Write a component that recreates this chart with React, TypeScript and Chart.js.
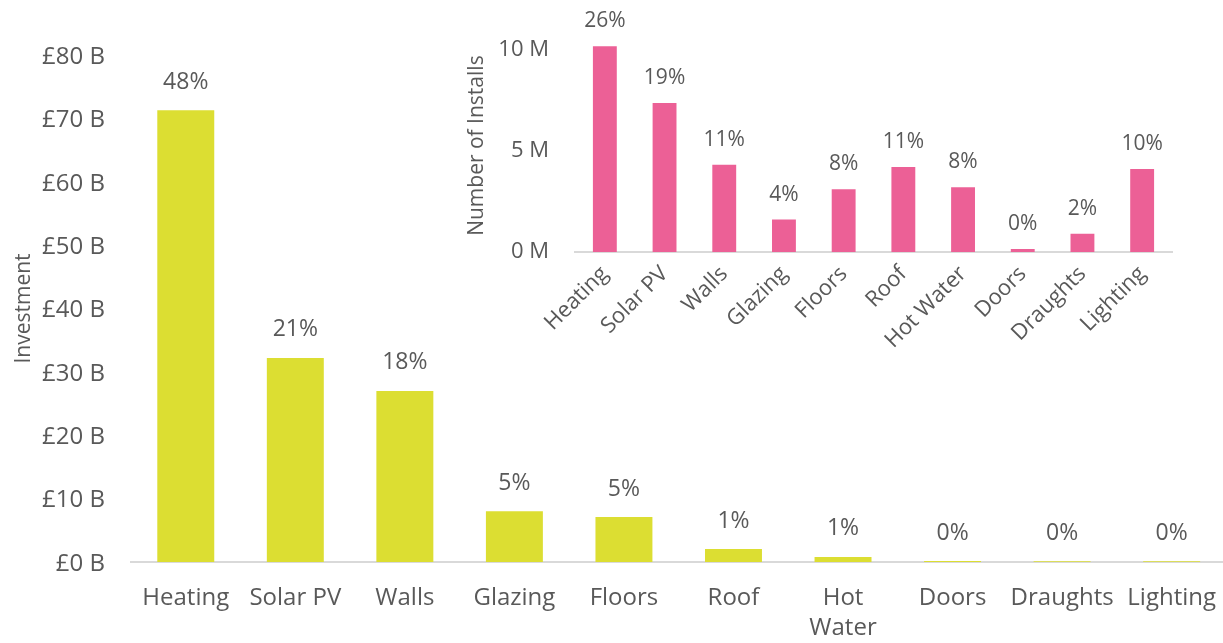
import React, { useEffect, useRef } from 'react';
import { Chart, registerables } from 'chart.js';

Chart.register(...registerables);

const categories = ['Heating', 'Solar PV', 'Walls', 'Glazing', 'Floors', 'Roof', 'Hot Water', 'Doors', 'Draughts', 'Lighting'];
const investmentBn = [71.3, 32.2, 27.0, 8.0, 7.1, 2.05, 0.8, 0.15, 0.12, 0.12];
const investmentPct = ['48%', '21%', '18%', '5%', '5%', '1%', '1%', '0%', '0%', '0%'];
const installsM = [10.15, 7.35, 4.3, 1.6, 3.1, 4.2, 3.2, 0.15, 0.9, 4.1];
const installsPct = ['26%', '19%', '11%', '4%', '8%', '11%', '8%', '0%', '2%', '10%'];
const investmentTicks = [0, 10, 20, 30, 40, 50, 60, 70, 80];
const installTicks = [0, 5, 10];

const FONT = '"Open Sans", "DejaVu Sans", sans-serif';
const TEXT = '#595959';
const AXIS = '#d9d9d9';
const GREEN = '#dcde32';
const PINK = '#ec6096';

function pctPlugin(labels: string[], offset: number, size: number) {
  return {
    id: 'pctLabels',
    afterDatasetsDraw(chart: any) {
      const ctx = chart.ctx;
      const meta = chart.getDatasetMeta(0);
      ctx.save();
      ctx.font = `${size}px ${FONT}`;
      ctx.fillStyle = TEXT;
      ctx.textAlign = 'center';
      ctx.textBaseline = 'middle';
      meta.data.forEach((el: any, i: number) => {
        ctx.fillText(labels[i], el.x, el.y - offset);
      });
      ctx.restore();
    },
  };
}

export default function App() {
  const mainRef = useRef<HTMLCanvasElement>(null);
  const insetRef = useRef<HTMLCanvasElement>(null);

  useEffect(() => {
    const mainLabels = categories.map((c) => (c === 'Hot Water' ? ['Hot', 'Water'] : c));
    const main = new Chart(mainRef.current!, {
      type: 'bar',
      data: {
        labels: mainLabels,
        datasets: [
          {
            data: investmentBn,
            backgroundColor: GREEN,
            categoryPercentage: 1,
            barPercentage: 0.52,
          },
        ],
      },
      options: {
        animation: false,
        responsive: false,
        layout: { padding: { top: 55, left: 0, right: 0, bottom: 0 } },
        plugins: { legend: { display: false }, tooltip: { enabled: false } },
        scales: {
          x: {
            grid: { display: false, drawTicks: false },
            border: { color: AXIS, width: 2 },
            ticks: {
              color: TEXT,
              font: { family: FONT, size: 24, lineHeight: 1.25 },
              padding: 21,
              maxRotation: 0,
              minRotation: 0,
              autoSkip: false,
            },
            afterFit: (s: any) => {
              s.height = 81;
            },
          },
          y: {
            min: 0,
            max: 80,
            grid: { display: false, drawTicks: false },
            border: { display: false },
            afterBuildTicks: (s: any) => {
              s.ticks = investmentTicks.map((v) => ({ value: v }));
            },
            ticks: {
              color: TEXT,
              font: { family: FONT, size: 24 },
              padding: 26,
              labelOffset: 2,
              callback: (v: any) => `£${v} B`,
            },
            title: {
              display: true,
              text: 'Investment',
              color: TEXT,
              font: { family: FONT, size: 21 },
              padding: { top: 11, bottom: 0 },
            },
            afterFit: (s: any) => {
              s.width = 131;
            },
          },
        },
      },
      plugins: [pctPlugin(investmentPct, 28, 23)],
    });

    const inset = new Chart(insetRef.current!, {
      type: 'bar',
      data: {
        labels: categories,
        datasets: [
          {
            data: installsM,
            backgroundColor: PINK,
            categoryPercentage: 1,
            barPercentage: 0.4,
          },
        ],
      },
      options: {
        animation: false,
        responsive: false,
        layout: { padding: { top: 7, left: 0, right: 51, bottom: 0 } },
        plugins: { legend: { display: false }, tooltip: { enabled: false } },
        scales: {
          x: {
            grid: { display: false, drawTicks: false },
            border: { color: AXIS, width: 2 },
            ticks: {
              color: TEXT,
              font: { family: FONT, size: 22 },
              padding: 9,
              maxRotation: 45,
              minRotation: 45,
              autoSkip: false,
            },
            afterFit: (s: any) => {
              s.height = 108;
            },
          },
          y: {
            min: 0,
            max: 10.5,
            grid: { display: false, drawTicks: false },
            border: { display: false },
            afterBuildTicks: (s: any) => {
              s.ticks = installTicks.map((v) => ({ value: v }));
            },
            ticks: {
              color: TEXT,
              font: { family: FONT, size: 22 },
              padding: 26,
              callback: (v: any) => `${v} M`,
            },
            title: {
              display: true,
              text: 'Number of Installs',
              color: TEXT,
              font: { family: FONT, size: 21 },
              padding: { top: 9, bottom: 0 },
            },
            afterFit: (s: any) => {
              s.width = 120;
            },
          },
        },
      },
      plugins: [pctPlugin(installsPct, 25, 21)],
    });

    return () => {
      main.destroy();
      inset.destroy();
    };
  }, []);

  return (
    <div style={{ position: 'fixed', left: 0, top: 0, width: 1223, height: 643, background: '#fff', overflow: 'hidden' }}>
      <canvas ref={mainRef} width={1237} height={643} style={{ position: 'absolute', left: 0, top: 0 }} />
      <canvas ref={insetRef} width={768} height={360} style={{ position: 'absolute', left: 455, top: 0 }} />
    </div>
  );
}
